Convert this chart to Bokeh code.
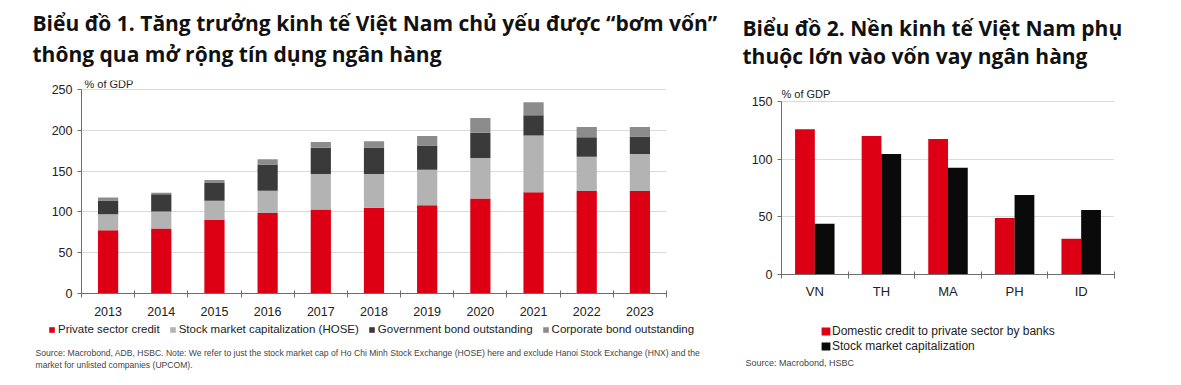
from bokeh.plotting import figure
from bokeh.layouts import row, column
from bokeh.models import ColumnDataSource, FixedTicker, Legend, LegendItem, Label, Range1d
from bokeh.transform import dodge
from bokeh.embed import file_html
from bokeh.resources import INLINE

# ---- data: chart 1 (% of GDP) ----
years = [2013, 2014, 2015, 2016, 2017, 2018, 2019, 2020, 2021, 2022, 2023]
private_credit = [77.5, 79.5, 90, 98.5, 103, 105, 108, 116.5, 124, 125.5, 125.5]
stock_cap_hose = [19.5, 21, 23.5, 27.5, 43.5, 41.5, 43.5, 49.5, 69.5, 42, 45.5]
gov_bond = [17, 21, 22, 32, 32, 32.5, 30, 31, 25, 24, 21.5]
corp_bond = [3.5, 2, 3.5, 6.5, 7, 7.5, 11.5, 18, 16, 12.5, 11.5]
series1_labels = ["Private sector credit", "Stock market capitalization (HOSE)",
                  "Government bond outstanding", "Corporate bond outstanding"]
y1_ticks = [0, 50, 100, 150, 200, 250]

# ---- data: chart 2 (% of GDP) ----
countries = ["VN", "TH", "MA", "PH", "ID"]
bank_credit = [126, 120, 117.5, 49, 31]
stock_cap = [44, 104.5, 92.5, 69, 56]
series2_labels = ["Domestic credit to private sector by banks", "Stock market capitalization"]
y2_ticks = [0, 50, 100, 150]

title1 = ["Biểu đồ 1. Tăng trưởng kinh tế Việt Nam chủ yếu được “bơm vốn”",
          "thông qua mở rộng tín dụng ngân hàng"]
title2 = ["Biểu đồ 2. Nền kinh tế Việt Nam phụ", "thuộc lớn vào vốn vay ngân hàng"]
source1 = ["Source: Macrobond, ADB, HSBC. Note: We refer to just the stock market cap of Ho Chi Minh Stock Exchange (HOSE) here and exclude Hanoi Stock Exchange (HNX) and the",
           "market for unlisted companies (UPCOM)."]
source2 = ["Source: Macrobond, HSBC"]
unit_label = "% of GDP"

RED = "#DD0014"
LIGHT = "#B3B3B3"
DARK = "#3A3A3A"
MID = "#8C8C8C"
BLACK = "#0A0A0A"
SANS = "Liberation Sans"
TITLEF = "Open Sans"
AXC = "#6E6E6E"
TXT = "#222222"
SRC = "#444444"


def style_axes(p, yticks):
    p.outline_line_color = None
    p.xgrid.grid_line_color = None
    p.ygrid.ticker = FixedTicker(ticks=yticks)
    p.ygrid.grid_line_color = "#DADADA"
    ya = p.yaxis[0]
    ya.ticker = FixedTicker(ticks=yticks)
    ya.bounds = (yticks[0], yticks[-1])
    ya.axis_line_color = AXC
    ya.major_tick_line_color = AXC
    ya.major_tick_out = 4
    ya.major_tick_in = 0
    ya.minor_tick_line_color = None
    ya.major_label_text_font = SANS
    ya.major_label_text_font_size = "12.5px"
    ya.major_label_text_color = TXT
    ya.major_label_standoff = 5
    xa = p.xaxis[0]
    xa.axis_line_color = AXC
    xa.major_tick_line_color = None
    xa.minor_tick_line_color = AXC
    xa.minor_tick_in = 3
    xa.minor_tick_out = 4
    xa.major_label_text_font = SANS
    xa.major_label_text_font_size = "12.5px"
    xa.major_label_text_color = TXT
    xa.major_label_standoff = 7


def add_label(p, text, x, y, size, color=TXT, font=SANS, bold=False):
    # x, y: screen pixels from the frame's bottom-left corner
    p.add_layout(Label(x=x, y=y, x_units="screen", y_units="screen", text=text,
                       text_font=font, text_font_size=size, text_color=color,
                       text_font_style="bold" if bold else "normal",
                       text_align="left", text_baseline="middle"))


def strip(height):
    s = figure(width=1174, height=height, output_backend="svg", toolbar_location=None,
               x_axis_type=None, y_axis_type=None, x_range=Range1d(0, 1), y_range=Range1d(0, 1),
               min_border_left=0, min_border_right=0, min_border_top=0, min_border_bottom=0)
    s.outline_line_color = None
    return s


# ================= Title strip =================
t = strip(72)
add_label(t, title1[0], 32, 50, "21px", color="#111111", font=TITLEF, bold=True)
add_label(t, title1[1], 32, 19, "21px", color="#111111", font=TITLEF, bold=True)
add_label(t, title2[0], 742, 45, "21px", color="#111111", font=TITLEF, bold=True)
add_label(t, title2[1], 742, 17, "21px", color="#111111", font=TITLEF, bold=True)

# ================= Chart 1 =================
src1 = ColumnDataSource(dict(year=years, private_credit=private_credit,
                             stock_cap_hose=stock_cap_hose, gov_bond=gov_bond,
                             corp_bond=corp_bond))
p1 = figure(frame_width=585, frame_height=213, output_backend="svg", toolbar_location=None,
            x_range=Range1d(years[0] - 0.5, years[-1] + 0.5), y_range=Range1d(0, 261),
            min_border_left=81, min_border_right=54, min_border_top=8, min_border_bottom=28)
stack_keys = ["private_credit", "stock_cap_hose", "gov_bond", "corp_bond"]
colors1 = [RED, LIGHT, DARK, MID]
p1.vbar_stack(stack_keys, x="year", width=0.38, color=colors1, line_color=None, source=src1)
style_axes(p1, y1_ticks)
p1.xaxis[0].ticker = FixedTicker(ticks=years,
                                 minor_ticks=[y - 0.5 for y in years] + [years[-1] + 0.5])
add_label(p1, unit_label, 3, 210, "11px")

# ================= Chart 2 =================
src2 = ColumnDataSource(dict(idx=list(range(len(countries))), bank_credit=bank_credit,
                             stock_cap=stock_cap))
p2 = figure(frame_width=333, frame_height=194, output_backend="svg", toolbar_location=None,
            x_range=Range1d(-0.5, len(countries) - 0.5), y_range=Range1d(0, 168.2),
            min_border_left=61, min_border_right=60, min_border_top=8, min_border_bottom=47)
p2.vbar(x=dodge("idx", -0.148), top="bank_credit", width=0.297, color=RED,
        line_color=None, source=src2)
p2.vbar(x=dodge("idx", 0.148), top="stock_cap", width=0.297, color=BLACK,
        line_color=None, source=src2)
style_axes(p2, y2_ticks)
p2.xaxis[0].ticker = FixedTicker(ticks=list(range(len(countries))),
                                 minor_ticks=[i - 0.5 for i in range(len(countries) + 1)])
p2.xaxis[0].major_label_overrides = {i: c for i, c in enumerate(countries)}
p2.xaxis[0].major_label_text_font_size = "13px"
p2.xaxis[0].major_label_standoff = 3
add_label(p2, unit_label, 0, 181, "11px")

# ================= Legends and source notes (strip below both charts) =================
q = strip(62)
# legend swatches: zero-height proxies that only carry the series colours
sw1 = [q.vbar(x=[0.5], top=[0], width=0, color=c, line_color=None) for c in colors1]
sw2 = [q.vbar(x=[0.5], top=[0], width=0, color=c, line_color=None) for c in (RED, BLACK)]

leg1 = Legend(items=[LegendItem(label=l, renderers=[r]) for l, r in zip(series1_labels, sw1)],
              orientation="horizontal", location=(48, 47), glyph_width=7, glyph_height=7,
              label_text_font=SANS, label_text_font_size="11.5px", label_text_color=TXT,
              label_standoff=3, spacing=9, padding=0, margin=0, border_line_color=None,
              background_fill_alpha=0, label_height=14)
q.add_layout(leg1, "center")
leg2 = Legend(items=[LegendItem(label=l, renderers=[r]) for l, r in zip(series2_labels, sw2)],
              orientation="vertical", location=(820, 30), glyph_width=11, glyph_height=10,
              label_text_font=SANS, label_text_font_size="12px", label_text_color=TXT,
              label_standoff=1, spacing=0, padding=0, margin=0, border_line_color=None,
              background_fill_alpha=0, label_height=15)
q.add_layout(leg2, "center")
add_label(q, source1[0], 35, 31, "8.6px", color=SRC)
add_label(q, source1[1], 35, 19, "8.6px", color=SRC)
add_label(q, source2[0], 745, 21, "9px", color=SRC)

layout = column(t, row(p1, p2), q)
open("out.html", "w").write(file_html(layout, INLINE))
